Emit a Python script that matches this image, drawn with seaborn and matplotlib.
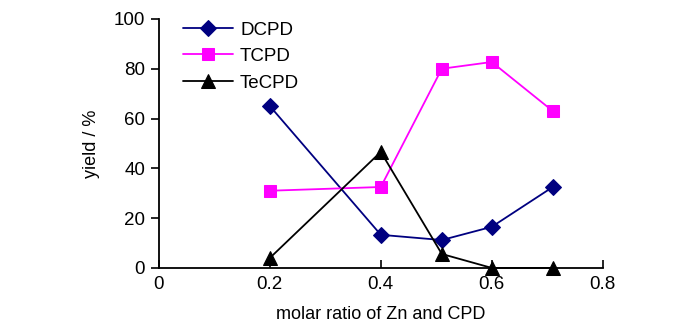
import matplotlib
matplotlib.use("Agg")
import matplotlib.pyplot as plt
import seaborn as sns
import pandas as pd

# Yield of each product versus Zn/CPD molar ratio
ratio = [0.2, 0.4, 0.51, 0.6, 0.71]
dcpd = [65, 13.3, 11.2, 16.5, 32.5]
tcpd = [31, 32.5, 80, 82.7, 63]
tecpd = [4, 46.6, 5.6, 0, 0]
series_names = ["DCPD", "TCPD", "TeCPD"]
x_ticks = [0, 0.2, 0.4, 0.6, 0.8]
x_tick_labels = ["0", "0.2", "0.4", "0.6", "0.8"]
y_ticks = [0, 20, 40, 60, 80, 100]

df = pd.DataFrame({
    "ratio": ratio * 3,
    "yield": dcpd + tcpd + tecpd,
    "product": [n for n in series_names for _ in ratio],
})

sns.set_theme(style="white")
plt.rcParams["font.family"] = ["Liberation Sans", "DejaVu Sans"]
plt.rcParams["text.color"] = "black"
plt.rcParams["axes.labelcolor"] = "black"
plt.rcParams["xtick.color"] = "black"
plt.rcParams["ytick.color"] = "black"

fig = plt.figure(figsize=(7.0, 3.32), dpi=100)
ax = fig.add_axes([0.227, 0.193, 0.634, 0.750])

palette = {"DCPD": "#000080", "TCPD": "#FF00FF", "TeCPD": "#000000"}
markers = {"DCPD": "D", "TCPD": "s", "TeCPD": "^"}
sizes = {"DCPD": 8, "TCPD": 9, "TeCPD": 9.5}

for name in series_names:
    sub = df[df["product"] == name]
    sns.lineplot(data=sub, x="ratio", y="yield", ax=ax, color=palette[name],
                 marker=markers[name], markersize=sizes[name],
                 markeredgecolor=palette[name], linewidth=1.3, label=name,
                 clip_on=False)

ax.set_xlim(0, 0.8)
ax.set_ylim(0, 100)
ax.set_xticks(x_ticks)
ax.set_xticklabels(x_tick_labels)
ax.set_yticks(y_ticks)
ax.set_yticklabels([str(v) for v in y_ticks])

for side in ["top", "right"]:
    ax.spines[side].set_visible(False)
for side in ["left", "bottom"]:
    ax.spines[side].set_color("black")
    ax.spines[side].set_linewidth(1.3)

ax.tick_params(axis="x", direction="in", length=6, width=1.2, labelsize=13.5,
               bottom=True, pad=6, colors="black")
ax.tick_params(axis="y", direction="out", length=6, width=1.2, labelsize=13.5,
               left=True, pad=4, colors="black")

ax.set_xlabel("molar ratio of Zn and CPD", fontsize=13, labelpad=9, color="black")
ax.set_ylabel("yield / %", fontsize=13, labelpad=10, color="black")

leg = ax.legend(loc="upper left", bbox_to_anchor=(0.054, 0.99), frameon=False,
                fontsize=13.5, handlelength=2.7, handletextpad=0.35,
                labelspacing=0.5, borderaxespad=0, borderpad=0,
                labelcolor="black")

fig.savefig("out.png", dpi=100, facecolor="white")
